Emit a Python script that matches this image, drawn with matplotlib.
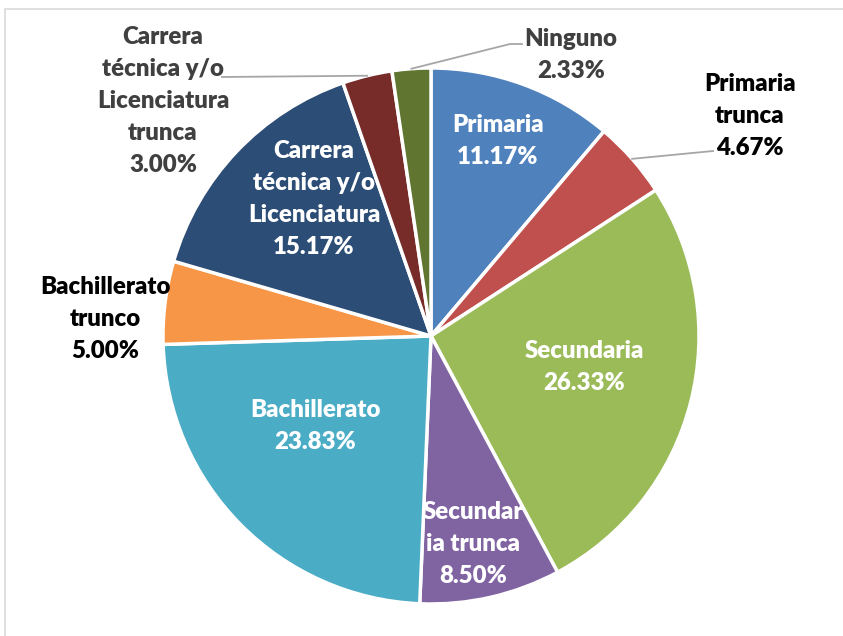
import numpy as np
import matplotlib.pyplot as plt
from matplotlib.patches import Rectangle

plt.rcParams['font.family'] = ['Lato', 'DejaVu Sans']

# Data
categories = ['Primaria', 'Primaria\ntrunca', 'Secundaria', 'Secundar\nia trunca',
              'Bachillerato', 'Bachillerato\ntrunco', 'Carrera\ntécnica y/o\nLicenciatura',
              'Carrera\ntécnica y/o\nLicenciatura\ntrunca', 'Ninguno']
values = [11.17, 4.67, 26.33, 8.50, 23.83, 5.00, 15.17, 3.00, 2.33]
colors = ['#4F81BD', '#C0504D', '#9BBB59', '#8064A2', '#4BACC6',
          '#F79646', '#2C4D75', '#772C2A', '#5F7530']

# label layout (pixel coords, y from top), text colour, leader end point
label_pos = [(498, 141), (750, 116), (584, 367), (473, 544), (315, 426),
             (105, 319), (314, 199), (163, 101), (571, 55)]
label_col = ['white', 'black', 'white', 'white', 'white',
             'black', 'white', '#404040', '#404040']
leaders = {1: [(713, 151)], 7: [(222, 77)], 8: [(510, 44), (522, 44)]}

W, H = 843, 636
fig = plt.figure(figsize=(W / 100, H / 100), dpi=100)
ax = fig.add_axes([0, 0, 1, 1])

cx, cy, r = 431, H - 336, 268
wedges, _ = ax.pie(values, colors=colors, startangle=90, counterclock=False,
                   center=(cx, cy), radius=r, frame=True,
                   wedgeprops=dict(edgecolor='white', linewidth=2.5))
ax.set_xlim(0, W)
ax.set_ylim(0, H)
ax.set_aspect('equal')
ax.axis('off')

# chart border
ax.add_patch(Rectangle((5, -20), 900, H - 9 + 20, fill=False,
                       edgecolor='#D9D9D9', linewidth=1.2))

cum = np.cumsum([0] + values)
for i, (cat, v) in enumerate(zip(categories, values)):
    x, y = label_pos[i]
    ax.text(x, H - y, f"{cat}\n{v:.2f}%", ha='center', va='center',
            fontsize=17.3, fontweight='heavy', color=label_col[i], linespacing=1.56)
    if i in leaders:
        mid = (cum[i] + cum[i + 1]) / 2 / 100 * 360
        sx = cx + r * np.sin(np.radians(mid))
        sy = cy + r * np.cos(np.radians(mid))
        pts = [(sx, sy)] + [(px, H - py) for px, py in leaders[i]]
        ax.plot([p[0] for p in pts], [p[1] for p in pts], color='#A6A6A6', lw=1.3)

fig.savefig('out.png', dpi=100)
